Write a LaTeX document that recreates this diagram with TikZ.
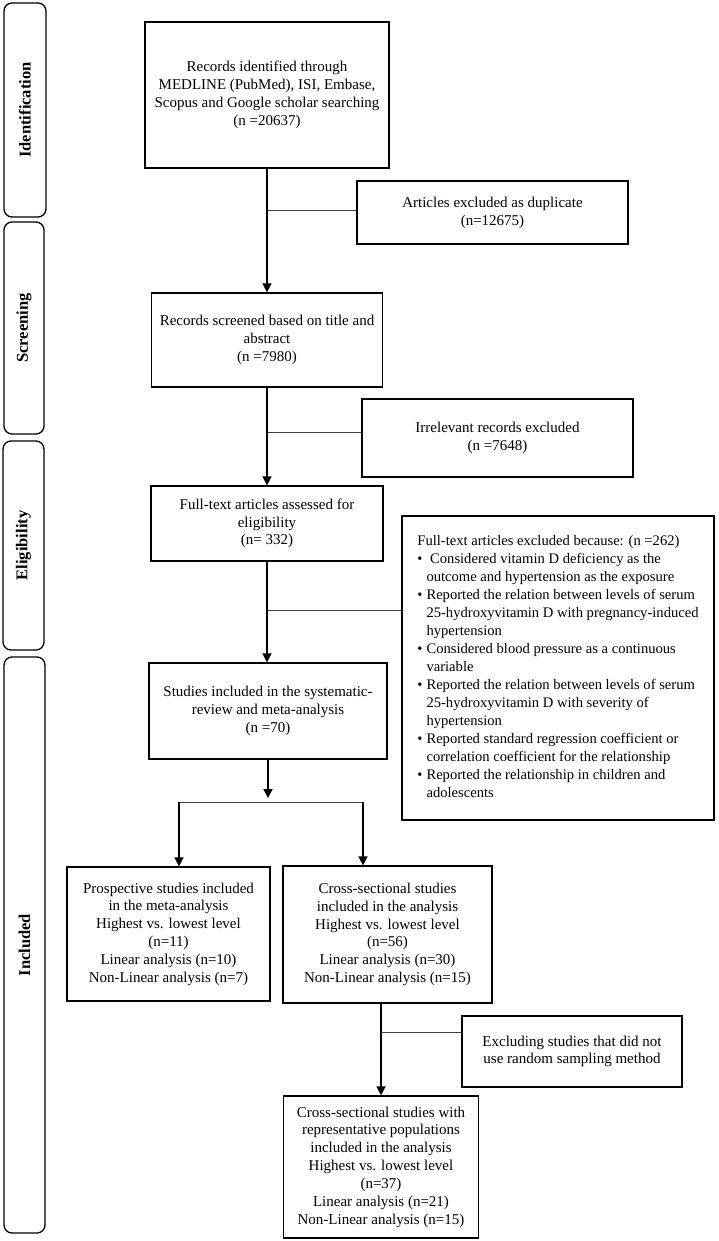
\documentclass[tikz,border=0pt]{standalone}
\usepackage{fontspec}
\setmainfont{Liberation Serif}
\usetikzlibrary{arrows.meta}
\tikzset{
  box/.style={draw,line width=1.2pt,align=center,inner sep=4pt,
    font=\fontsize{15}{17.8}\selectfont},
  phase/.style={draw,line width=1.3pt,rounded corners=8pt,rotate=90,
    font=\fontsize{16.5}{18}\selectfont\bfseries},
  arr/.style={line width=1.4pt,-{Triangle[length=9pt,width=9pt]}},
  link/.style={line width=0.8pt,black!75}
}
\begin{document}
\begin{tikzpicture}[x=1pt,y=-1pt]
  \useasboundingbox (0,0) rectangle (718,1241);
  % stage labels on the left:
  \node[phase,minimum width=214,minimum height=42] (idphase) at (25,110) {Identification};
  \node[phase,minimum width=212,minimum height=40] (scphase) at (24,328) {Screening};
  \node[phase,minimum width=209,minimum height=41] (elphase) at (23.5,545.5) {Eligibility};
  \node[phase,minimum width=576,minimum height=41] (inphase) at (24.5,945) {Included};
  % main column:
  \node[box,minimum width=244,minimum height=146] (recs) at (267,95)
    {Records identified through\\MEDLINE (PubMed), ISI, Embase,\\Scopus and Google scholar searching\\(n =20637)};
  \node[box,minimum width=231,minimum height=94] (screened) at (267,340)
    {Records screened based on title and\\abstract\\(n =7980)};
  \node[box,minimum width=232,minimum height=75] (fulltext) at (267,523.5)
    {Full-text articles assessed for\\eligibility\\(n= 332)};
  \node[box,minimum width=238,minimum height=96] (included) at (268,711)
    {Studies included in the systematic-\\review and meta-analysis\\(n =70)};
  % exclusions on the right:
  \node[box,minimum width=271,minimum height=63] (dupl) at (492.5,212.5)
    {Articles excluded as duplicate\\(n=12675)};
  \node[box,minimum width=271,minimum height=78] (irrel) at (497.5,438)
    {Irrelevant records excluded\\(n =7648)};
  \node[box,minimum width=312,minimum height=304,align=left,font=\fontsize{14.6}{18}\selectfont] (reasons) at (558,668)
    {\begin{tabular}{@{}l@{\hspace{4pt}}l@{}}
      \multicolumn{2}{@{}l@{}}{Full-text articles excluded because: (n =262)}\\
      \textbullet & \ Considered vitamin D deficiency as the\\
       & outcome and hypertension as the exposure\\
      \textbullet & Reported the relation between levels of serum\\
       & 25-hydroxyvitamin D with pregnancy-induced\\
       & hypertension\\
      \textbullet & Considered blood pressure as a continuous\\
       & variable\\
      \textbullet & Reported the relation between levels of serum\\
       & 25-hydroxyvitamin D with severity of\\
       & hypertension\\
      \textbullet & Reported standard regression coefficient or\\
       & correlation coefficient for the relationship\\
      \textbullet & Reported the relationship in children and\\
       & adolescents
    \end{tabular}};
  % final split:
  \node[box,minimum width=203,minimum height=134] (prosp) at (168.5,934)
    {Prospective studies included\\in the meta-analysis\\Highest vs. lowest level\\(n=11)\\Linear analysis (n=10)\\Non-Linear analysis (n=7)};
  \node[box,minimum width=209,minimum height=137] (cross) at (387.5,934.5)
    {Cross-sectional studies\\included in the analysis\\Highest vs. lowest level\\(n=56)\\Linear analysis (n=30)\\Non-Linear analysis (n=15)};
  \node[box,minimum width=220,minimum height=71] (random) at (572,1051.5)
    {Excluding studies that did not\\use random sampling method};
  \node[box,minimum width=195,minimum height=142] (repr) at (381,1167)
    {Cross-sectional studies with\\representative populations\\included in the analysis\\Highest vs. lowest level\\(n=37)\\Linear analysis (n=21)\\Non-Linear analysis (n=15)};
  % branch points:
  \coordinate (d1) at (268,210);
  \coordinate (d2) at (268,432);
  \coordinate (d3) at (268,610);
  \coordinate (d4) at (381,1032);
  \coordinate (sl) at (179,802);
  \coordinate (sr) at (363,802);
  \coordinate (sm) at (268,798);
  % arrows down the column:
  \draw[arr] (recs.south) -- (recs.south |- screened.north);
  \draw[arr] (screened.south) -- (screened.south |- fulltext.north);
  \draw[arr] (fulltext.south) -- (fulltext.south |- included.north);
  \draw[arr] (included.south) -- (sm);
  \draw[link] (sl) -- (sr);
  \draw[arr] (sl) -- (sl |- prosp.north);
  \draw[arr] (sr) -- (sr |- cross.north);
  \draw[arr] (repr.north |- cross.south) -- (repr.north);
  % side lines to the exclusions:
  \draw[link] (d1) -- (d1 -| dupl.west);
  \draw[link] (d2) -- (d2 -| irrel.west);
  \draw[link] (d3) -- (d3 -| reasons.west);
  \draw[link] (d4) -- (d4 -| random.west);
\end{tikzpicture}
\end{document}
